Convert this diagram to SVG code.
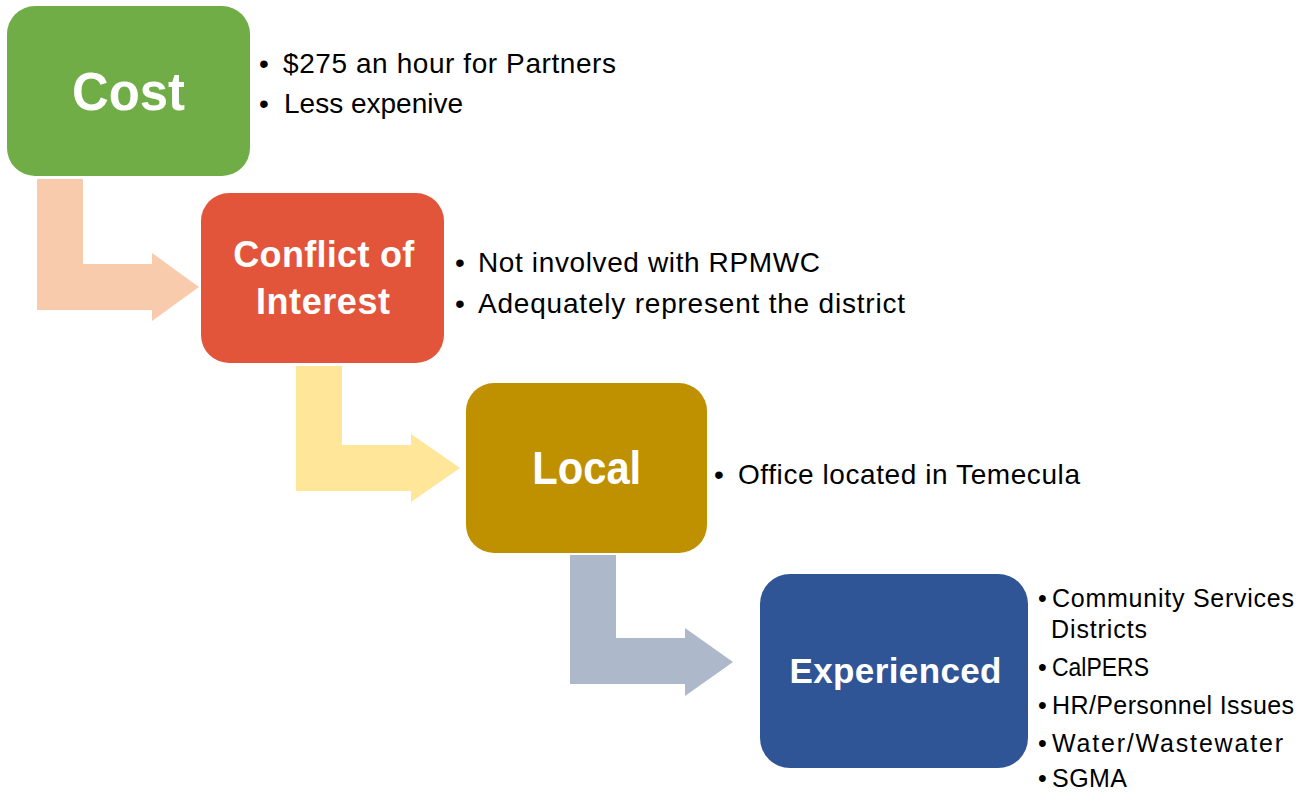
<svg xmlns="http://www.w3.org/2000/svg" width="1315" height="793" viewBox="0 0 1315 793">
  <style>
    .title { font-family: "Liberation Sans", Arial, sans-serif; font-weight: bold; fill: #ffffff; text-anchor: middle; }
    .item { font-family: "Liberation Sans", Arial, sans-serif; font-size: 28px; fill: #000000; }
    .small { font-size: 25px; }
  </style>
  <rect width="1315" height="793" fill="#ffffff"/>

  <!-- bent arrows leading from one step to the next -->
  <g id="connectors">
    <polygon fill="#F8CBAD" points="37,179 83,179 83,264 152,264 152,253 199,287 152,321 152,310 37,310"/>
    <polygon fill="#FFE699" points="296,366 342,366 342,445 411,445 411,434 460,468 411,502 411,491 296,491"/>
    <polygon fill="#ADB9CA" points="570,555 616,555 616,638 685,638 685,628 733,662 685,696 685,684 570,684"/>
  </g>

  <g id="cost">
    <rect x="7" y="6" width="243" height="170" rx="28" fill="#70AD47"/>
    <text class="title" x="128.5" y="110" font-size="54" textLength="113" lengthAdjust="spacingAndGlyphs">Cost</text>
    <text class="item" x="259" y="73">•</text>
    <text class="item" x="283" y="73" textLength="333">$275 an hour for Partners</text>
    <text class="item" x="259" y="113">•</text>
    <text class="item" x="284" y="113" textLength="179">Less expenive</text>
  </g>

  <g id="conflict">
    <rect x="201" y="193" width="243" height="170" rx="28" fill="#E2553B"/>
    <text class="title" x="323.8" y="267" font-size="36" textLength="181">Conflict of</text>
    <text class="title" x="323" y="314" font-size="36" textLength="134">Interest</text>
    <text class="item" x="455" y="272">•</text>
    <text class="item" x="478" y="272" textLength="342">Not involved with RPMWC</text>
    <text class="item" x="455" y="313">•</text>
    <text class="item" x="478" y="313" textLength="427">Adequately represent the district</text>
  </g>

  <g id="local">
    <rect x="466" y="383" width="241" height="170" rx="28" fill="#BF9000"/>
    <text class="title" x="586.7" y="484" font-size="47" textLength="109" lengthAdjust="spacingAndGlyphs">Local</text>
    <text class="item" x="714" y="484">•</text>
    <text class="item" x="738" y="484" textLength="342">Office located in Temecula</text>
  </g>

  <g id="experienced">
    <rect x="760" y="574" width="268" height="194" rx="30" fill="#2F5597"/>
    <text class="title" x="895.5" y="683" font-size="35" textLength="212">Experienced</text>
    <text class="item small" x="1038" y="607">•</text>
    <text class="item small" x="1052" y="607" textLength="242">Community Services</text>
    <text class="item small" x="1051" y="638" textLength="96">Districts</text>
    <text class="item small" x="1038" y="676">•</text>
    <text class="item small" x="1052" y="676" textLength="97" lengthAdjust="spacingAndGlyphs">CalPERS</text>
    <text class="item small" x="1038" y="714">•</text>
    <text class="item small" x="1052" y="714" textLength="242">HR/Personnel Issues</text>
    <text class="item small" x="1038" y="752">•</text>
    <text class="item small" x="1052" y="752" textLength="231">Water/Wastewater</text>
    <text class="item small" x="1038" y="787">•</text>
    <text class="item small" x="1052" y="787" textLength="75">SGMA</text>
  </g>
</svg>
